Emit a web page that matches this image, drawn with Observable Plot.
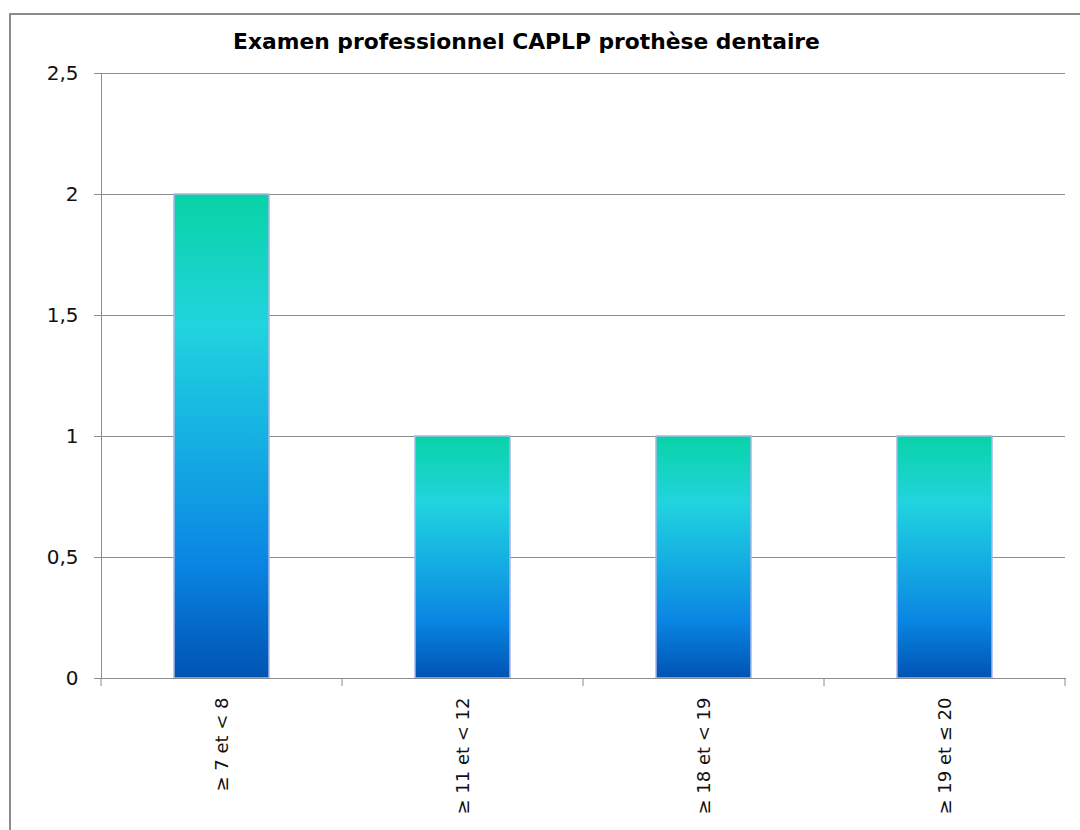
<!DOCTYPE html>
<html><head><meta charset="utf-8">
<script src="https://cdn.jsdelivr.net/npm/d3@7"></script>
<script src="https://cdn.jsdelivr.net/npm/@observablehq/plot@0.6"></script>
<style>
body{margin:0;background:#fff;}
#wrap{position:relative;width:1080px;height:830px;overflow:hidden;background:#fff;}
#frame{position:absolute;left:9px;top:13px;width:1100px;height:900px;border:2px solid #8c8c8c;}
#title{position:absolute;left:10px;width:1033px;top:29px;text-align:center;font:bold 21.8px "DejaVu Sans",sans-serif;color:#000;}
#chart{position:absolute;left:0;top:0;}
</style></head><body>
<div id="wrap"><div id="frame"></div><div id="title">Examen professionnel CAPLP prothèse dentaire</div><div id="chart"></div></div>
<script>
const categories = ["≥ 7 et < 8", "≥ 11 et < 12", "≥ 18 et < 19", "≥ 19 et ≤ 20"];
const values = [2, 1, 1, 1];
const yTicks = [0, 0.5, 1, 1.5, 2, 2.5];
const yTickLabels = ["0", "0,5", "1", "1,5", "2", "2,5"];

const data = categories.map((c, i) => ({category: c, value: values[i]}));
const grey = "#8c8c8c";

const chart = Plot.plot({
  width: 1080, height: 830,
  marginLeft: 101, marginRight: 15, marginTop: 73, marginBottom: 152,
  style: {background: "transparent", fontFamily: "'DejaVu Sans', sans-serif", color: "#000"},
  x: {domain: categories, padding: 0, label: null},
  y: {domain: [0, 2.5], label: null},
  marks: [
    Plot.gridY(yTicks, {stroke: grey, strokeOpacity: 1, strokeWidth: 1}),
    Plot.barY(data, {x: "category", y: "value", fill: "url(#barGrad)", stroke: "#a9b7e6", strokeWidth: 1.5, insetLeft: 73, insetRight: 73}),
    Plot.axisY({ticks: yTicks, tickFormat: d => yTickLabels[yTicks.indexOf(d)], tickSize: 7, tickPadding: 16, fontSize: 20, stroke: grey, fill: "#111", label: null}),
    Plot.axisX({tickSize: 0, tickRotate: -90, tickPadding: 19, fontSize: 18, fill: "#111", label: null}),
    Plot.frame({anchor: "left", stroke: grey}),
    Plot.frame({anchor: "bottom", stroke: grey})
  ]
});

const svg = d3.select(chart);
const grad = svg.insert("defs", ":first-child").append("linearGradient")
  .attr("id", "barGrad").attr("x1", 0).attr("y1", 0).attr("x2", 0).attr("y2", 1);
[[0, "#08d3a6"], [0.27, "#21d4de"], [0.5, "#16b1e2"], [0.76, "#0a86e3"], [1, "#0053b3"]]
  .forEach(([o, c]) => grad.append("stop").attr("offset", o).attr("stop-color", c));

const sx = chart.scale("x"), sy = chart.scale("y");
const bounds = categories.map(c => sx.apply(c)).concat([sx.apply(categories[categories.length - 1]) + sx.bandwidth]);
const y0 = sy.apply(0);
svg.append("g").selectAll("line").data(bounds).join("line")
  .attr("x1", d => d).attr("x2", d => d).attr("y1", y0).attr("y2", y0 + 8)
  .attr("stroke", grey);

document.getElementById("chart").appendChild(chart);
</script>
</body></html>
